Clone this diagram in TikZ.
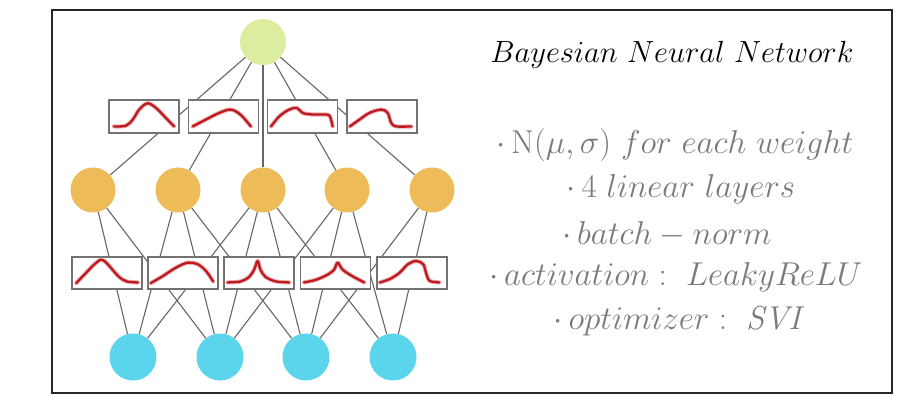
\documentclass[tikz,border=0pt]{standalone}
\usepackage{amsmath}
\definecolor{nodegreen}{HTML}{DDEDA0}
\definecolor{nodeorange}{HTML}{EDBB57}
\definecolor{nodeblue}{HTML}{5BD5EC}
\definecolor{curvered}{HTML}{BE1A20}
\definecolor{txtgray}{HTML}{7A7A7A}
\tikzset{
  neuron/.style={circle, minimum size=46pt, inner sep=0pt},
  wire/.style={draw=black!60, line width=1.1pt},
  distbox/.style={draw=black!55, fill=white, line width=1.3pt, minimum width=70pt, minimum height=33pt, inner sep=0pt},
  curveglow/.style={draw=curvered!35, line width=4.2pt, line cap=round, line join=round},
  curveline/.style={draw=curvered, line width=2.3pt, line cap=round, line join=round},
  titletext/.style={font=\Huge, text=black, scale=1.23, transform shape},
  infotext/.style={font=\Huge, text=txtgray, scale=1.33, transform shape},
}
\newcommand\distcurve[2]{%
  \begin{scope}[shift={(#1.north west)}, x=70pt, y=-33pt]
    \draw[curveglow] plot[smooth, tension=0.55] coordinates {#2};
    \draw[curveline] plot[smooth, tension=0.55] coordinates {#2};
  \end{scope}}
\begin{document}
\begin{tikzpicture}[x=1pt,y=-1pt]
\useasboundingbox (0,0) rectangle (897,403);
\fill[white] (0,0) rectangle (897,403);
\draw[line width=2pt, draw=black!85] (52,10) rectangle (892,393);

% neurons
\node[neuron, fill=nodegreen] (g) at (263,42) {};
\node[neuron, fill=nodeorange, minimum size=45pt] (o1) at (93,190) {};
\node[neuron, fill=nodeorange, minimum size=45pt] (o2) at (178,190) {};
\node[neuron, fill=nodeorange, minimum size=45pt] (o3) at (263,190) {};
\node[neuron, fill=nodeorange, minimum size=45pt] (o4) at (347,190) {};
\node[neuron, fill=nodeorange, minimum size=45pt] (o5) at (432,190) {};
\node[neuron, fill=nodeblue, minimum size=47pt] (b1) at (133,357) {};
\node[neuron, fill=nodeblue, minimum size=47pt] (b2) at (220,357) {};
\node[neuron, fill=nodeblue, minimum size=47pt] (b3) at (306,357) {};
\node[neuron, fill=nodeblue, minimum size=47pt] (b4) at (393,357) {};

% wires
\foreach \o in {o1,o2,o3,o4,o5} \draw[wire] (g) -- (\o);
\foreach \o/\b in {o1/b1,o1/b2,o2/b1,o2/b2,o2/b3,o3/b1,o3/b2,o3/b3,o3/b4,o4/b2,o4/b3,o4/b4,o5/b3,o5/b4}
  \draw[wire] (\o) -- (\b);

% distribution boxes, upper row
\node[distbox] (u1) at (144,116.5) {};
\node[distbox] (u2) at (223.5,116.5) {};
\node[distbox] (u3) at (302.5,116.5) {};
\node[distbox] (u4) at (382,116.5) {};
% lower row
\node[distbox, minimum height=32pt] (d1) at (107,273) {};
\node[distbox, minimum height=32pt] (d2) at (183,273) {};
\node[distbox, minimum height=32pt] (d3) at (259,273) {};
\node[distbox, minimum height=32pt] (d4) at (335.5,273) {};
\node[distbox, minimum height=32pt] (d5) at (412,273) {};

\distcurve{u1}{(.08,.82) (.25,.80) (.35,.61) (.44,.31) (.56,.12) (.68,.26) (.82,.56) (.94,.82)}
\distcurve{u2}{(.07,.82) (.26,.61) (.45,.41) (.61,.31) (.75,.46) (.90,.82)}
\distcurve{u3}{(.06,.82) (.18,.51) (.32,.31) (.43,.26) (.51,.41) (.65,.46) (.84,.46) (.90,.51) (.94,.82)}
\distcurve{u4}{(.05,.82) (.19,.61) (.33,.41) (.50,.31) (.59,.41) (.64,.71) (.71,.82) (.93,.82)}

\distcurve{d1}{(.07,.81) (.21,.50) (.33,.24) (.43,.10) (.52,.24) (.67,.60) (.79,.76) (.95,.79)}
\distcurve{d2}{(.05,.81) (.22,.60) (.41,.34) (.58,.19) (.72,.24) (.84,.45) (.94,.76)}
\distcurve{d3}{(.06,.79) (.25,.76) (.37,.62) (.44,.40) (.49,.14) (.53,.40) (.60,.62) (.75,.76) (.94,.79)}
\distcurve{d4}{(.06,.79) (.23,.71) (.40,.55) (.49,.40) (.54,.19) (.61,.40) (.75,.60) (.92,.79)}
\distcurve{d5}{(.05,.79) (.19,.69) (.33,.50) (.45,.24) (.57,.14) (.67,.24) (.71,.50) (.76,.74) (.90,.79)}

% text
\node[titletext] (title) at (672,55) {$Bayesian\ Neural\ Network$};
\node[infotext] (l1) at (675,145) {$\cdot\,\mathrm{N}(\mu,\sigma)\ for\ each\ weight$};
\node[infotext] (l2) at (681,189) {$\cdot\,4\ linear\ layers$};
\node[infotext] (l3) at (667,234) {$\cdot\,batch-norm$};
\node[infotext] (l4) at (676,277) {$\cdot\,activation:\ LeakyReLU$};
\node[infotext] (l5) at (680,321) {$\cdot\,optimizer:\ \mathit{SVI}$};
\end{tikzpicture}
\end{document}
